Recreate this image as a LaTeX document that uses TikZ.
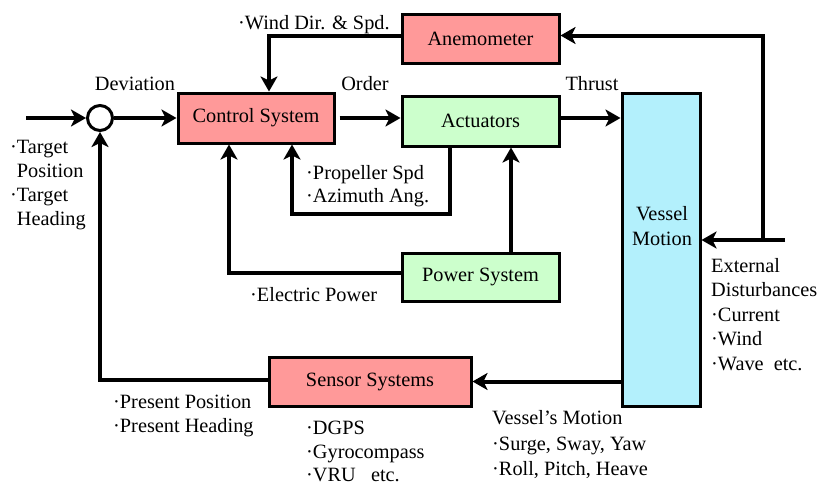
\documentclass[tikz,border=0pt]{standalone}
\usepackage{fontspec}
\setmainfont{Liberation Serif}
\usetikzlibrary{arrows.meta}
\definecolor{boxpink}{HTML}{FF9999}
\definecolor{boxgreen}{HTML}{CCFFCC}
\definecolor{boxcyan}{HTML}{B3F0FC}
\begin{document}
\begin{tikzpicture}[x=1pt,y=-1pt,
  font=\fontsize{20.3}{25}\selectfont,
  blk/.style={draw, line width=3pt, inner sep=0pt, align=center},
  conn/.style={line width=4pt},
  arr/.style={conn, -{Stealth[length=15pt,width=17pt,inset=4pt]}},
  lbl/.style={anchor=base west, inner sep=0pt},
  clbl/.style={anchor=base, inner sep=0pt}]
\useasboundingbox (0,0) rectangle (819,485);
% blocks
\node[blk, fill=boxpink, minimum width=156pt, minimum height=50pt] (ctrl) at (256,118) {Control System};
\node[blk, fill=boxpink, minimum width=157pt, minimum height=49pt] (anem) at (480.5,38.5) {Anemometer};
\node[blk, fill=boxgreen, minimum width=157pt, minimum height=50pt] (act) at (480.5,121) {Actuators};
\node[blk, fill=boxgreen, minimum width=157pt, minimum height=48pt] (pow) at (480.5,277) {Power System};
\node[blk, fill=boxcyan, minimum width=78pt, minimum height=313pt] (ves) at (661,249.5) {};
\node[align=center, inner sep=0pt] (vestxt) at (662,226) {Vessel\\Motion};
\node[blk, fill=boxpink, minimum width=202pt, minimum height=49pt] (sen) at (370,381.5) {Sensor Systems};
\node[draw, circle, line width=3pt, minimum size=25pt, inner sep=0pt] (sum) at (100,118) {};
% free ends and bends
\coordinate (in) at (26,118);
\coordinate (dist) at (785,240);
\coordinate (br) at (763,240);
\coordinate (lp) at (292,214);
% connectors
\draw[arr] (in) -- (sum);
\draw[arr] (sum) -- (ctrl);
\draw[arr, shorten <=4pt] (ctrl.east) -- (ctrl.east -| act.west);
\draw[arr] (act.east |- ctrl.east) -- (ves.west |- ctrl.east);
\draw[arr] ([yshift=2.5pt]anem.west) -| ([xshift=13pt]ctrl.north);
\draw[arr] (dist) -- (dist -| ves.east);
\draw[arr] (br) |- ([yshift=3pt]anem.east);
\draw[arr] ([xshift=-30.5pt]act.south) |- (lp) -- ([xshift=36pt]ctrl.south);
\draw[arr] ([xshift=30.5pt]pow.north) -- ([xshift=30.5pt]act.south);
\draw[arr] ([yshift=4pt]pow.west) -| ([xshift=-27pt]ctrl.south);
\draw[arr] (ves.west |- sen.east) -- (sen.east);
\draw[arr] ([yshift=2pt]sen.west) -| (sum.south);
% labels
\node[clbl] (tdev) at (135,90) {Deviation};
\node[clbl] (tord) at (365,90) {Order};
\node[clbl] (tthr) at (592,90) {Thrust};
\node[lbl] (twind) at (238,29) {·Wind Dir. \& Spd.};
\node[lbl] (tt1) at (10,153) {·Target};
\node[lbl] (tt2) at (10,177) {\hphantom{·}Position};
\node[lbl] (tt3) at (10,201) {·Target};
\node[lbl] (tt4) at (10,225) {\hphantom{·}Heading};
\node[lbl] (tp1) at (306,179) {·Propeller Spd};
\node[lbl] (tp2) at (306,202) {·Azimuth Ang.};
\node[lbl] (tel) at (250,301) {·Electric Power};
\node[lbl] (tpr1) at (113,408) {·Present Position};
\node[lbl] (tpr2) at (113,432) {·Present Heading};
\node[lbl] (ts1) at (306,434) {·DGPS};
\node[lbl] (ts2) at (306,458) {·Gyrocompass};
\node[lbl] (ts3) at (306,481) {·VRU\ \ \ etc.};
\node[lbl] (tv1) at (492,424) {Vessel’s Motion};
\node[lbl] (tv2) at (492,450) {·Surge, Sway, Yaw};
\node[lbl] (tv3) at (492,475) {·Roll, Pitch, Heave};
\node[lbl] (te1) at (711,272) {External};
\node[lbl] (te2) at (711,296) {Disturbances};
\node[lbl] (te3) at (711,321) {·Current};
\node[lbl] (te4) at (711,345) {·Wind};
\node[lbl] (te5) at (711,370) {·Wave\ \ etc.};
\end{tikzpicture}
\end{document}
